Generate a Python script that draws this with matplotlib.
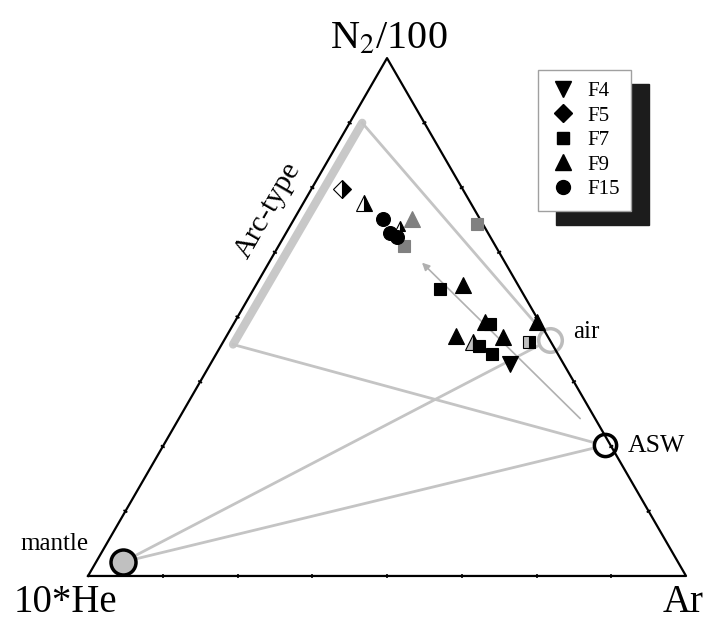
import numpy as np
import matplotlib
matplotlib.use("Agg")
import matplotlib.pyplot as plt
from matplotlib.lines import Line2D

plt.rcParams['font.family'] = ['Liberation Serif', 'DejaVu Serif']
plt.rcParams['mathtext.fontset'] = 'stix'

# ── Data: ternary fractions (N2/100, Ar); 10*He is the remainder ────────────
AIR    = (0.456, 0.544)
ASW    = (0.252, 0.738)
MANTLE = (0.027, 0.045)

ARC_N2 = [0.875, 0.447]          # arc-type end-member field
ARC_AR = [0.021, 0.019]

ARROW_N2 = [0.304, 0.605]        # tail -> head
ARROW_AR = [0.671, 0.256]

F4_N2   = [0.410]
F4_AR   = [0.501]
F4_FILL = ['solid']

F5_N2   = [0.747]
F5_AR   = [0.051]
F5_FILL = ['half']

F7_N2   = [0.638, 0.680, 0.554, 0.487, 0.445, 0.429, 0.4515]
F7_AR   = [0.209, 0.310, 0.312, 0.429, 0.432, 0.461, 0.512]
F7_FILL = ['gray', 'gray', 'solid', 'solid', 'solid', 'solid', 'halfgray']

F9_N2   = [0.720, 0.676, 0.689, 0.561, 0.490, 0.464, 0.4515, 0.461, 0.490]
F9_AR   = [0.102, 0.184, 0.198, 0.347, 0.419, 0.384, 0.4186, 0.464, 0.505]
F9_FILL = ['half', 'half_small', 'gray', 'solid', 'solid', 'solid', 'halfgray', 'solid', 'solid']

F15_N2   = [0.690, 0.663, 0.654]
F15_AR   = [0.149, 0.173, 0.189]
F15_FILL = ['solid', 'solid', 'solid']

SERIES = [  # drawing order
    ('F9', '^', 11.5, F9_N2, F9_AR, F9_FILL),
    ('F7', 's', 9.0, F7_N2, F7_AR, F7_FILL),
    ('F4', 'v', 11.5, F4_N2, F4_AR, F4_FILL),
    ('F5', 'D', 9.0, F5_N2, F5_AR, F5_FILL),
    ('F15', 'o', 10.0, F15_N2, F15_AR, F15_FILL),
]
LEGEND_ORDER = ['F4', 'F5', 'F7', 'F9', 'F15']

GRAY_LINE = '#c4c4c4'
GRAY_MARK = '#808080'
LIGHT = '#c0c0c0'
H = np.sqrt(3) / 2


def tern(n2, ar):
    n2 = np.asarray(n2, dtype=float)
    ar = np.asarray(ar, dtype=float)
    return ar + n2 / 2, n2 * H


fig = plt.figure(figsize=(7.1, 6.21), dpi=100)
ax = fig.add_axes([0, 0, 1, 1])
ax.set_xlim(-0.1472, 1.0401)
ax.set_ylim(-0.0753, 0.9632)
ax.axis('off')

# triangle frame + tiny ticks every 1/8
corners = np.array([[0, 0], [1, 0], [0.5, H], [0, 0]])
ax.plot(corners[:, 0], corners[:, 1], color='k', lw=1.6, zorder=3)
for a, b in [(corners[0], corners[1]), (corners[1], corners[2]), (corners[2], corners[0])]:
    d = b - a
    nrm = np.array([-d[1], d[0]]) / np.hypot(*d) * 0.0022
    for t in np.arange(1, 8) / 8:
        p = a + t * d
        ax.plot([p[0] - nrm[0], p[0] + nrm[0]], [p[1] - nrm[1], p[1] + nrm[1]],
                color='k', lw=1.3, zorder=3)

# mixing lines
ax.plot(*tern(ARC_N2, ARC_AR), color='#c8c8c8', lw=6, solid_capstyle='round', zorder=1)
for p, q in [((ARC_N2[0], ARC_AR[0]), AIR), ((ARC_N2[1], ARC_AR[1]), ASW),
             (MANTLE, AIR), (MANTLE, ASW)]:
    ax.plot(*tern([p[0], q[0]], [p[1], q[1]]), color=GRAY_LINE, lw=2, zorder=1)

ax.annotate('', xy=tern(ARROW_N2[1], ARROW_AR[1]), xytext=tern(ARROW_N2[0], ARROW_AR[0]),
            arrowprops=dict(arrowstyle='-|>', color='#b0b0b0', lw=1.2,
                            mutation_scale=11, shrinkA=0, shrinkB=0), zorder=1)

# end-members
ax.plot(*tern(*AIR), 'o', ms=17, mfc='white', mec='#bcbcbc', mew=2.5, zorder=2)
ax.plot(*tern(*ASW), 'o', ms=16, mfc='white', mec='k', mew=2.5, zorder=2)
ax.plot(*tern(*MANTLE), 'o', ms=18, mfc=LIGHT, mec='k', mew=2.5, zorder=4)

# samples
for name, mk, ms, n2s, ars, fills in SERIES:
    for n2, ar, fl in zip(n2s, ars, fills):
        kw = dict(marker=mk, ms=ms, ls='none', mec='k', mew=0.8, mfc='k', zorder=5)
        if fl == 'gray':
            kw.update(mfc=GRAY_MARK, mec=GRAY_MARK)
        elif fl in ('half', 'half_small'):
            kw.update(fillstyle='right', markerfacecoloralt='white')
            if fl == 'half_small':
                kw.update(ms=ms * 0.6)
        elif fl == 'halfgray':
            kw.update(fillstyle='right', markerfacecoloralt=LIGHT)
        ax.plot(*tern(n2, ar), **kw)

# labels
ax.annotate(r'N$_2$/100', xy=(0.5, H), xytext=(1.4, 7.2), textcoords='offset points',
            ha='center', va='baseline', fontsize=29)
ax.annotate('10*He', xy=(0, 0), xytext=(-16.5, -26), textcoords='offset points',
            ha='center', va='baseline', fontsize=28)
ax.annotate('Ar', xy=(1, 0), xytext=(-17, -26), textcoords='offset points',
            ha='left', va='baseline', fontsize=28)
ax.annotate('air', xy=tern(*AIR), xytext=(17, 1.5), textcoords='offset points',
            ha='left', va='baseline', fontsize=18)
ax.annotate('ASW', xy=tern(*ASW), xytext=(16.5, -5), textcoords='offset points',
            ha='left', va='baseline', fontsize=18.5)
ax.annotate('mantle', xy=tern(*MANTLE), xytext=(-49, 8.6), textcoords='offset points',
            ha='center', va='baseline', fontsize=18)
arc_mid = tern(np.mean(ARC_N2), np.mean(ARC_AR))
ax.annotate('Arc-type', xy=arc_mid, xytext=(-21, 17), textcoords='offset points',
            ha='center', va='center', rotation=60, rotation_mode='anchor', fontsize=21.5)

# legend with solid drop shadow
markers = {s[0]: (s[1], s[2]) for s in SERIES}
handles = [Line2D([], [], marker=markers[n][0], ms=markers[n][1], ls='none',
                  color='k') for n in LEGEND_ORDER]
ax.legend(handles, LEGEND_ORDER, loc='upper left', bbox_to_anchor=(0.7577, 0.8873),
          borderaxespad=0, fontsize=15, frameon=True, fancybox=False,
          edgecolor='#a0a0a0', framealpha=1, borderpad=0.55, handlelength=1.35,
          handletextpad=0.46, labelspacing=0.24,
          shadow={'color': '#1c1c1c', 'alpha': 1, 'ox': 13, 'oy': -10})

fig.savefig('out.png', dpi=100)
